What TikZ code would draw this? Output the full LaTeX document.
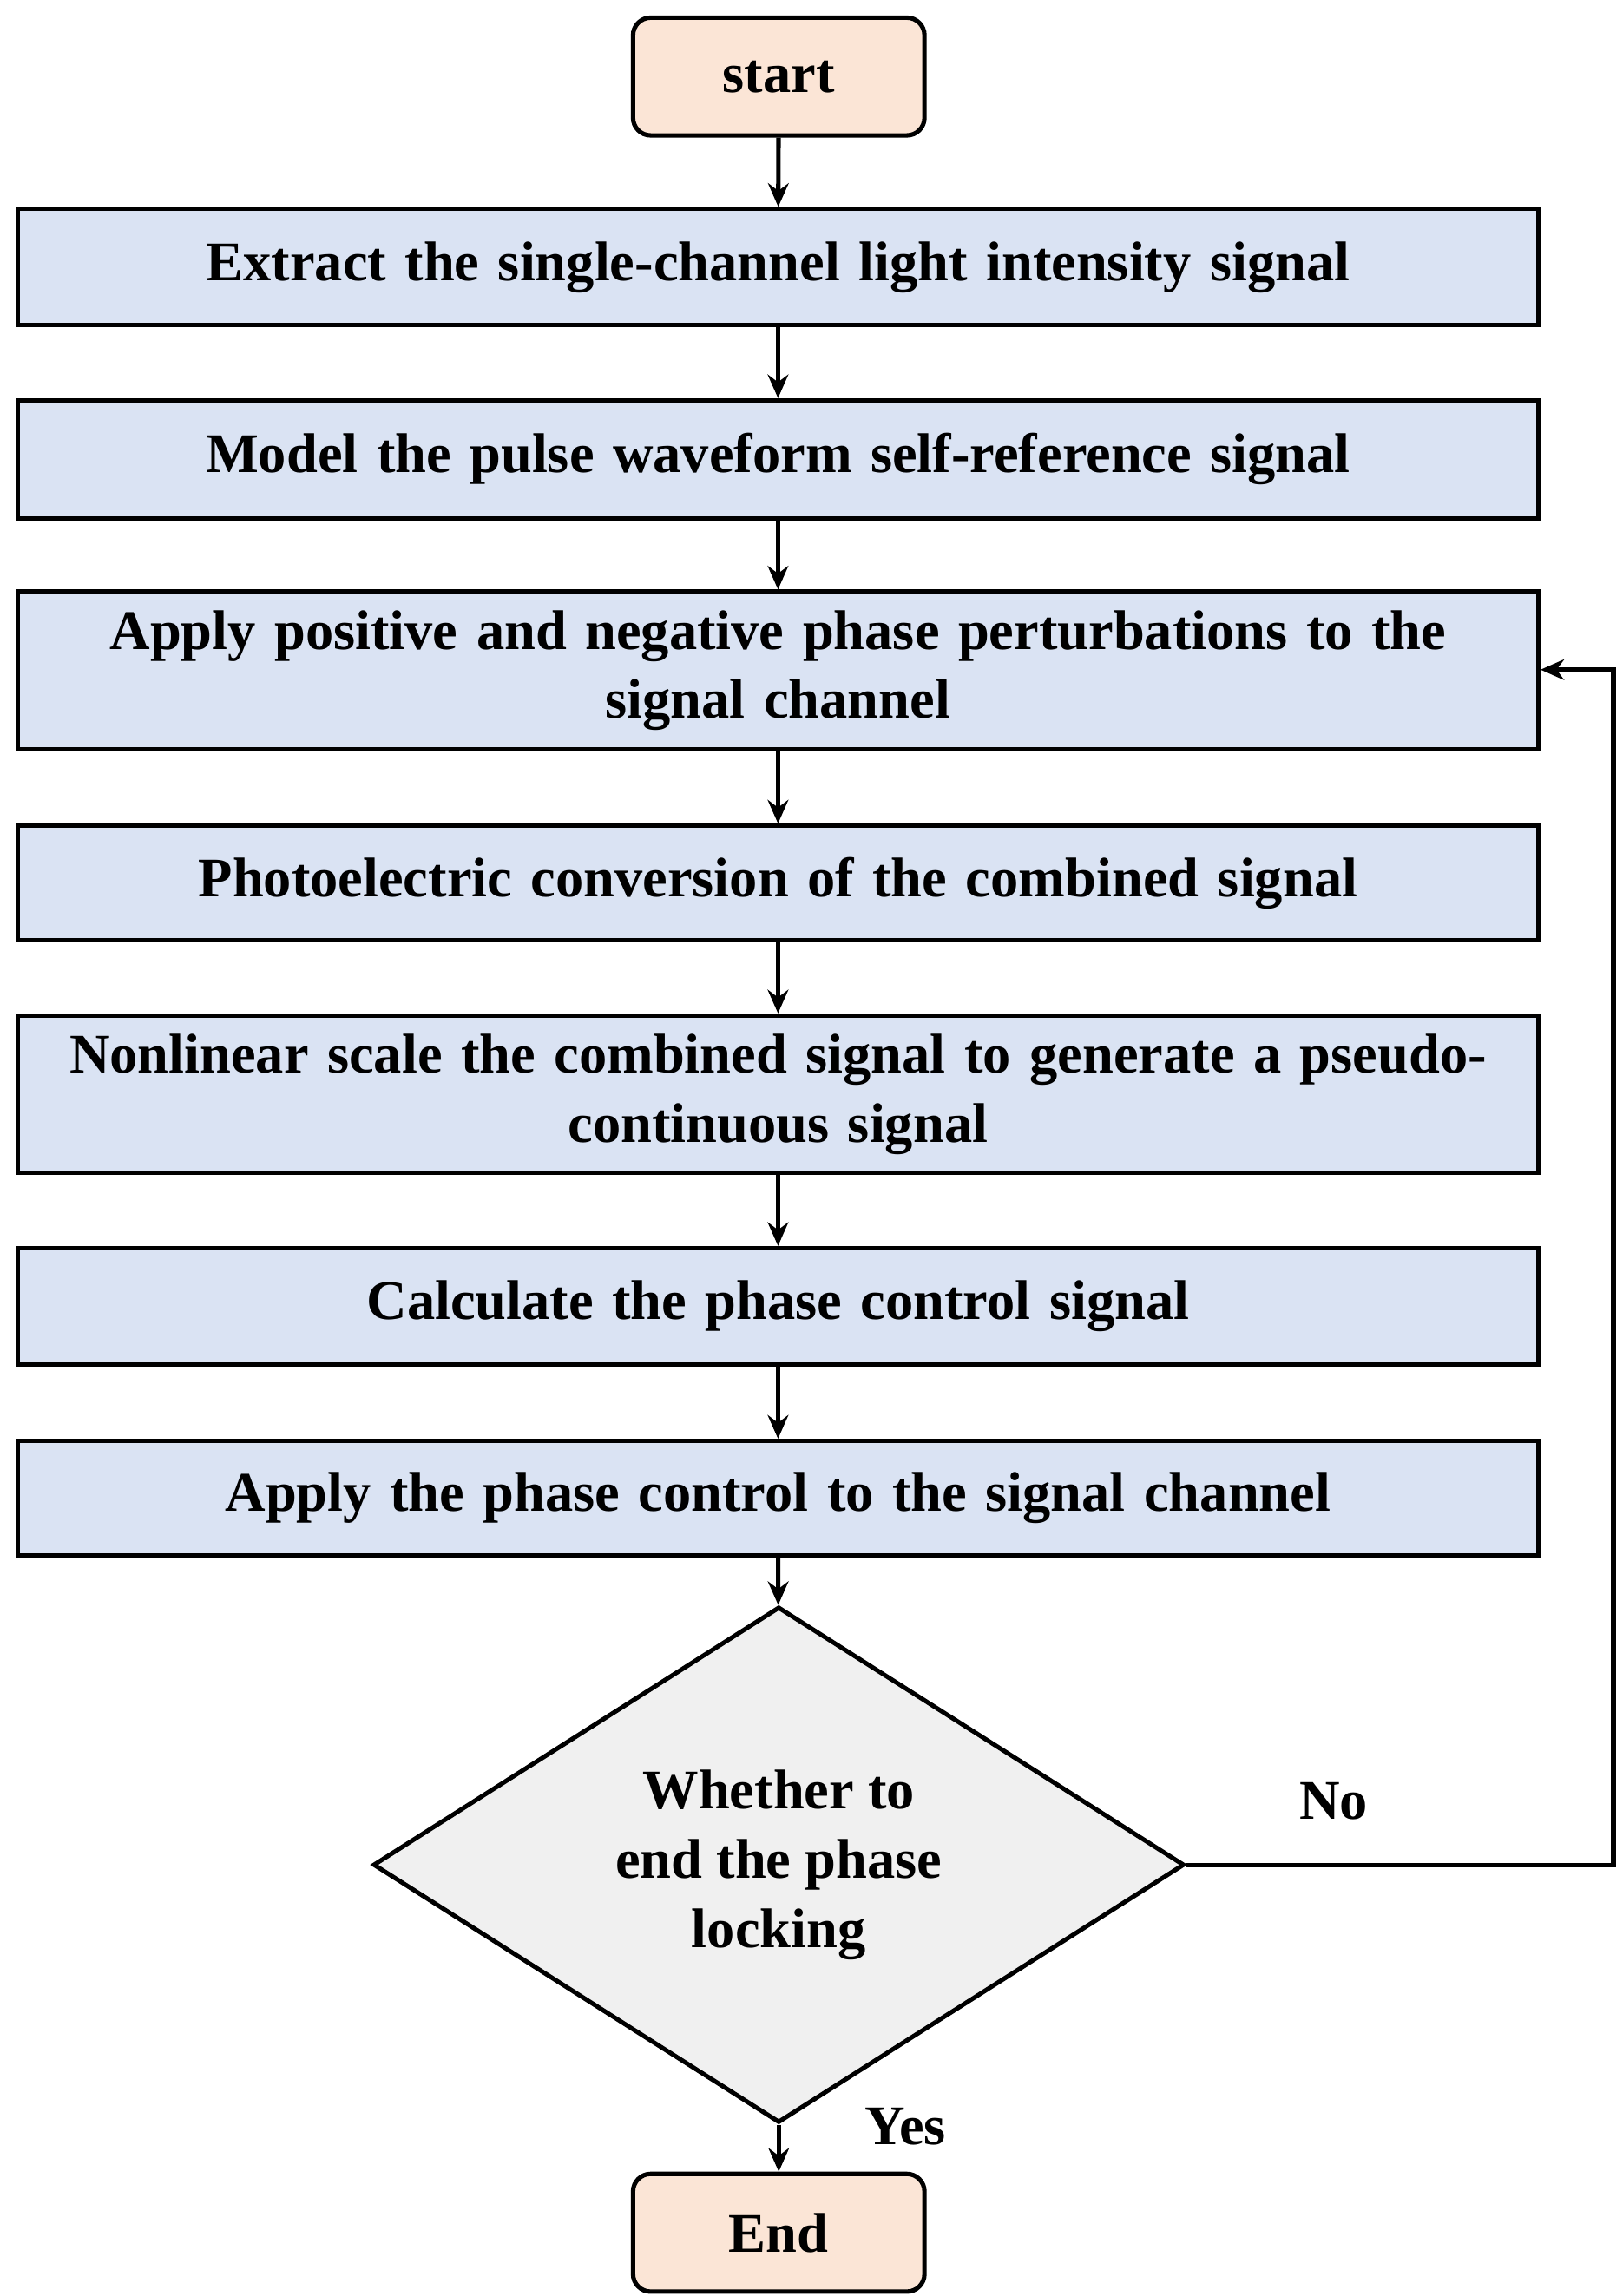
\documentclass[tikz,border=0pt]{standalone}
\usepackage{fontspec}
\setmainfont{Liberation Serif}
\usetikzlibrary{shapes.geometric,arrows.meta}
\definecolor{peach}{HTML}{FBE5D6}
\definecolor{boxblue}{HTML}{DAE3F3}
\definecolor{dgray}{HTML}{F0F0F0}
\begin{document}
\begin{tikzpicture}[x=0.5pt,y=-0.5pt,
  every node/.style={font=\fontsize{19}{23.5}\selectfont\bfseries},
  term/.style={draw,line width=1.5pt,fill=peach,rounded corners=6pt,minimum width=99pt,minimum height=40pt,inner sep=0pt},
  box/.style={draw,line width=1.5pt,fill=boxblue,minimum width=516.5pt,text width=510pt,align=center,inner sep=0pt},
  arr/.style={line width=1.5pt,-{Stealth[length=8pt,width=7pt]}}]
\useasboundingbox (0,0) rectangle (1102,1560);
\node[term] (s) at (529,52) {start};
\node[box,minimum height=39.5pt] (b1) at (528.5,181.5) {Extract the single-channel light intensity signal};
\node[box,minimum height=40pt] (b2) at (528.5,312) {Model the pulse waveform self-reference signal};
\node[box,minimum height=53.5pt] (b3) at (528.5,455.5) {Apply positive and negative phase perturbations to the\\signal channel};
\node[box,minimum height=39pt] (b4) at (528.5,600) {Photoelectric conversion of the combined signal};
\node[box,minimum height=53.5pt] (b5) at (528.5,743.5) {Nonlinear scale the combined signal to generate a pseudo-\\continuous signal};
\node[box,minimum height=39.5pt] (b6) at (528.5,887.5) {Calculate the phase control signal};
\node[box,minimum height=39pt] (b7) at (528.5,1018) {Apply the phase control to the signal channel};
\node[draw,line width=1.5pt,fill=dgray,diamond,minimum width=275.5pt,minimum height=158.5pt,inner sep=0pt,align=center] (d) at (529,1267) {Whether to\\end the phase\\locking};
\node[term] (e) at (529,1517) {End};
\node (no) at (906,1224) {No};
\node (yes) at (615,1445) {Yes};
\coordinate (c1) at (1096,1267);
\coordinate (c2) at (1096,455);
\draw[arr] (s) -- (b1);
\draw[arr] (b1) -- (b2);
\draw[arr] (b2) -- (b3);
\draw[arr] (b3) -- (b4);
\draw[arr] (b4) -- (b5);
\draw[arr] (b5) -- (b6);
\draw[arr] (b6) -- (b7);
\draw[arr] (b7) -- (d);
\draw[arr] (d) -- (e);
\draw[arr] (d.east) -- (c1) -- (c2) -- (b3.east |- c2);
\end{tikzpicture}
\end{document}
